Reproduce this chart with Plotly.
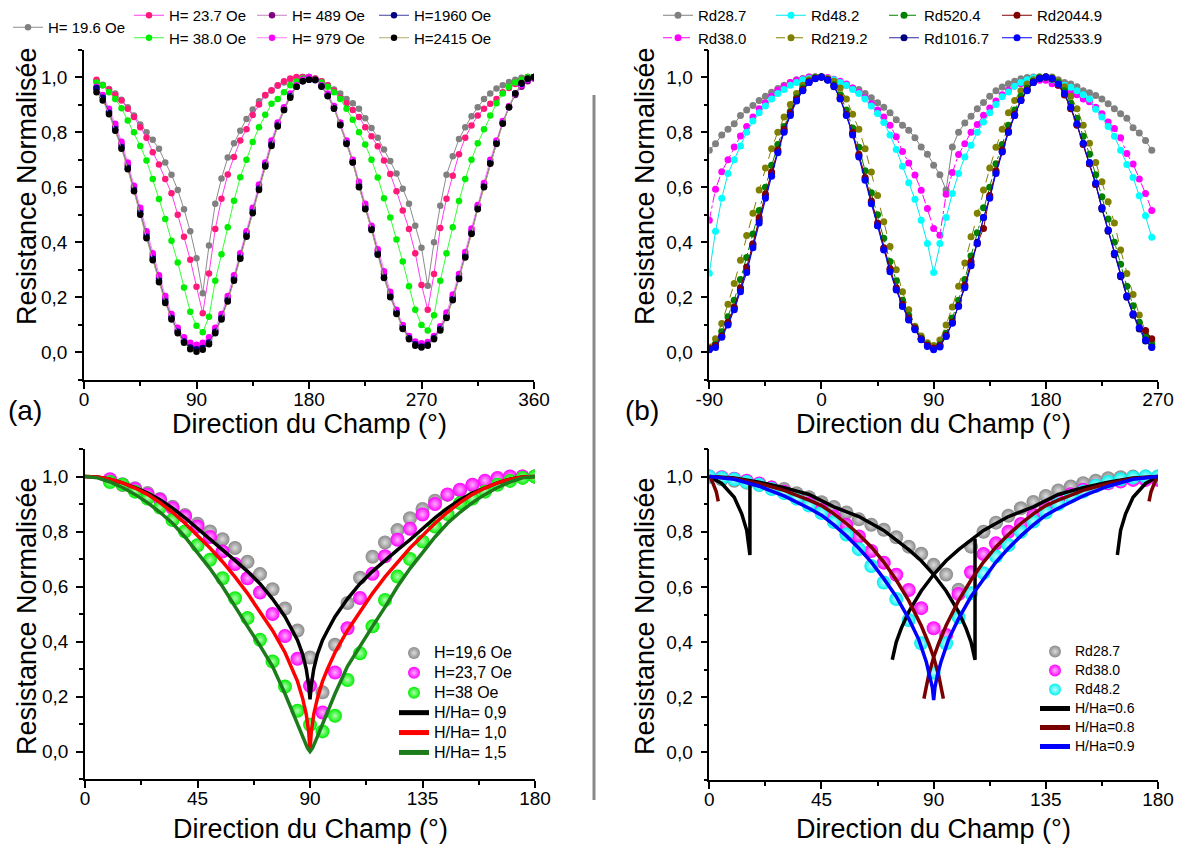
import plotly.graph_objects as go

# ======================= DATA =======================
# ---- (a) top : field direction sweep, 5 deg steps ----
ANGLE_A = list(range(10, 361, 5))
H196 = [0.985,0.972,0.957,0.940,0.918,0.890,0.860,0.828,0.800,0.772,
        0.740,0.690,0.645,0.590,0.520,0.440,0.342,0.215,0.388,0.540,
        0.632,0.708,0.760,0.805,0.848,0.882,0.912,0.933,0.950,0.968,
        0.980,0.990,0.997,1.000,1.000,0.995,0.985,0.970,0.955,0.940,
        0.920,0.905,0.885,0.850,0.815,0.780,0.737,0.695,0.650,0.594,
        0.540,0.460,0.380,0.242,0.400,0.533,0.645,0.712,0.775,0.818,
        0.858,0.890,0.920,0.940,0.958,0.970,0.982,0.990,0.997,1.000,
        1.000]
H237 = [0.990,0.970,0.955,0.935,0.915,0.885,0.855,0.818,0.780,0.727,
        0.682,0.630,0.578,0.500,0.420,0.337,0.239,0.142,0.287,0.448,
        0.558,0.646,0.710,0.770,0.810,0.862,0.900,0.935,0.952,0.970,
        0.985,0.995,1.000,1.000,1.000,0.995,0.985,0.970,0.950,0.925,
        0.905,0.880,0.855,0.818,0.785,0.749,0.697,0.648,0.585,0.515,
        0.448,0.360,0.245,0.155,0.285,0.452,0.558,0.642,0.720,0.780,
        0.824,0.860,0.885,0.903,0.920,0.945,0.960,0.975,0.990,1.000,
        1.000]
H380 = [0.980,0.970,0.945,0.920,0.887,0.842,0.800,0.750,0.697,0.630,
        0.557,0.485,0.406,0.327,0.236,0.148,0.097,0.073,0.130,0.260,
        0.357,0.455,0.551,0.636,0.700,0.764,0.818,0.863,0.903,0.920,
        0.945,0.970,0.984,0.995,1.000,0.990,0.980,0.965,0.945,0.920,
        0.885,0.845,0.800,0.755,0.700,0.635,0.560,0.490,0.410,0.330,
        0.240,0.155,0.100,0.080,0.135,0.260,0.360,0.455,0.550,0.630,
        0.700,0.760,0.810,0.860,0.905,0.940,0.965,0.980,0.990,1.000,
        1.000]
H489 = [0.955,0.930,0.875,0.820,0.755,0.680,0.600,0.515,0.430,0.350,
        0.270,0.195,0.130,0.080,0.045,0.025,0.020,0.025,0.045,0.080,
        0.130,0.195,0.270,0.355,0.435,0.520,0.605,0.685,0.760,0.830,
        0.885,0.935,0.965,0.990,0.995,0.990,0.968,0.935,0.890,0.830,
        0.765,0.695,0.610,0.530,0.455,0.365,0.285,0.210,0.150,0.095,
        0.055,0.035,0.028,0.032,0.055,0.090,0.135,0.200,0.275,0.355,
        0.440,0.530,0.610,0.690,0.765,0.835,0.890,0.935,0.965,0.985,
        0.995]
H979 = [0.965,0.935,0.885,0.830,0.765,0.690,0.605,0.525,0.440,0.360,
        0.280,0.205,0.140,0.090,0.055,0.035,0.028,0.035,0.055,0.090,
        0.140,0.205,0.280,0.360,0.440,0.525,0.610,0.690,0.770,0.835,
        0.890,0.940,0.970,0.990,1.000,0.990,0.970,0.940,0.895,0.835,
        0.770,0.700,0.620,0.540,0.460,0.375,0.295,0.220,0.155,0.100,
        0.060,0.040,0.033,0.038,0.060,0.095,0.145,0.210,0.285,0.365,
        0.450,0.535,0.615,0.700,0.770,0.840,0.895,0.940,0.970,0.990,
        1.000]
H1960 = [0.960,0.925,0.870,0.810,0.745,0.670,0.590,0.505,0.420,0.340,
         0.260,0.185,0.125,0.075,0.040,0.018,0.012,0.016,0.036,0.075,
         0.125,0.190,0.265,0.345,0.425,0.510,0.595,0.680,0.755,0.825,
         0.880,0.930,0.965,0.985,0.990,0.988,0.967,0.932,0.887,0.827,
         0.760,0.690,0.603,0.523,0.448,0.358,0.273,0.203,0.143,0.088,
         0.052,0.030,0.022,0.028,0.052,0.085,0.128,0.193,0.270,0.348,
         0.433,0.523,0.603,0.688,0.760,0.832,0.890,0.940,0.975,0.993,
         1.000]
H2415 = [0.945,0.915,0.865,0.805,0.740,0.665,0.585,0.500,0.415,0.335,
         0.255,0.180,0.120,0.070,0.035,0.012,0.003,0.010,0.030,0.070,
         0.120,0.185,0.260,0.340,0.420,0.505,0.590,0.675,0.750,0.820,
         0.880,0.925,0.965,0.985,0.990,0.990,0.965,0.930,0.885,0.825,
         0.757,0.690,0.600,0.520,0.445,0.355,0.270,0.200,0.140,0.085,
         0.048,0.024,0.018,0.024,0.048,0.080,0.125,0.190,0.267,0.345,
         0.430,0.520,0.600,0.685,0.757,0.830,0.890,0.940,0.978,0.995,
         1.000]

# ---- (b) top ----
ANGLE_B = list(range(-90, 266, 5))
RD287 = [0.734,0.758,0.790,0.810,0.830,0.860,0.880,0.897,0.915,0.930,
         0.945,0.958,0.970,0.980,0.990,0.995,1.000,1.000,1.000,0.990,
         0.985,0.978,0.970,0.960,0.955,0.940,0.925,0.907,0.890,0.870,
         0.845,0.825,0.807,0.780,0.746,0.720,0.680,0.645,0.590,0.746,
         0.800,0.833,0.858,0.885,0.908,0.930,0.950,0.964,0.976,0.985,
         0.994,0.998,1.000,1.000,1.000,1.000,0.990,0.980,0.975,0.965,
         0.950,0.943,0.933,0.920,0.903,0.885,0.867,0.850,0.816,0.797,
         0.770,0.734]
RD380 = [0.480,0.593,0.656,0.700,0.746,0.786,0.820,0.855,0.885,0.907,
         0.930,0.952,0.967,0.980,0.988,0.993,1.000,1.000,1.000,0.998,
         0.992,0.985,0.975,0.960,0.945,0.925,0.903,0.880,0.855,0.825,
         0.783,0.730,0.688,0.644,0.589,0.523,0.450,0.426,0.574,0.653,
         0.719,0.758,0.800,0.828,0.861,0.888,0.913,0.936,0.952,0.967,
         0.976,0.982,0.988,0.988,0.988,0.976,0.970,0.958,0.946,0.936,
         0.920,0.910,0.890,0.867,0.837,0.813,0.780,0.722,0.684,0.630,
         0.577,0.515]
RD482 = [0.288,0.440,0.560,0.650,0.700,0.750,0.800,0.840,0.870,0.895,
         0.920,0.940,0.955,0.970,0.980,0.990,0.995,1.000,1.000,0.995,
         0.990,0.980,0.970,0.955,0.940,0.920,0.895,0.868,0.835,0.790,
         0.737,0.676,0.616,0.556,0.480,0.396,0.290,0.396,0.490,0.577,
         0.650,0.710,0.752,0.800,0.837,0.870,0.900,0.928,0.946,0.967,
         0.980,0.990,0.997,1.000,1.000,0.990,0.980,0.970,0.963,0.950,
         0.936,0.920,0.883,0.855,0.820,0.785,0.734,0.682,0.635,0.569,
         0.496,0.418]
RD2192 = [0.020,0.050,0.105,0.175,0.250,0.335,0.425,0.505,0.590,0.670,
          0.740,0.800,0.855,0.900,0.940,0.970,0.990,1.000,1.000,0.995,
          0.985,0.960,0.920,0.865,0.810,0.740,0.655,0.570,0.475,0.385,
          0.300,0.220,0.155,0.095,0.060,0.035,0.025,0.045,0.100,0.165,
          0.240,0.325,0.420,0.505,0.590,0.670,0.745,0.810,0.870,0.915,
          0.950,0.975,0.990,1.000,1.000,0.998,0.985,0.965,0.930,0.885,
          0.825,0.760,0.690,0.620,0.547,0.470,0.372,0.287,0.210,0.136,
          0.076,0.040]
RD5204 = [0.012,0.030,0.075,0.130,0.190,0.265,0.345,0.430,0.515,0.600,
          0.680,0.755,0.820,0.875,0.925,0.960,0.985,0.997,1.000,0.990,
          0.973,0.935,0.880,0.815,0.745,0.660,0.580,0.500,0.415,0.330,
          0.260,0.190,0.135,0.090,0.052,0.028,0.015,0.030,0.070,0.125,
          0.190,0.265,0.350,0.435,0.525,0.600,0.685,0.755,0.825,0.880,
          0.930,0.960,0.985,0.997,1.000,0.996,0.980,0.950,0.905,0.850,
          0.785,0.720,0.645,0.565,0.485,0.400,0.320,0.240,0.170,0.110,
          0.060,0.030]
RD10167 = [0.012,0.025,0.060,0.105,0.160,0.230,0.300,0.390,0.480,0.570,
           0.650,0.730,0.805,0.865,0.915,0.952,0.980,0.995,1.000,0.990,
           0.965,0.922,0.862,0.795,0.715,0.630,0.545,0.460,0.375,0.300,
           0.230,0.170,0.120,0.085,0.048,0.024,0.014,0.022,0.060,0.110,
           0.170,0.240,0.320,0.400,0.490,0.565,0.655,0.730,0.800,0.860,
           0.915,0.952,0.980,0.995,1.000,0.993,0.972,0.937,0.887,0.827,
           0.757,0.685,0.610,0.520,0.440,0.355,0.275,0.200,0.135,0.085,
           0.042,0.020]
RD20449 = [0.015,0.025,0.060,0.110,0.165,0.235,0.310,0.395,0.490,0.575,
           0.655,0.735,0.810,0.870,0.920,0.955,0.983,0.996,1.000,0.990,
           0.968,0.925,0.865,0.800,0.720,0.635,0.550,0.470,0.380,0.305,
           0.235,0.175,0.125,0.088,0.050,0.026,0.016,0.025,0.062,0.110,
           0.170,0.245,0.330,0.395,0.450,0.570,0.660,0.735,0.805,0.865,
           0.918,0.953,0.982,0.996,1.000,0.993,0.970,0.935,0.885,0.825,
           0.755,0.685,0.610,0.525,0.445,0.360,0.280,0.205,0.140,0.090,
           0.080,0.050]
RD25339 = [0.010,0.018,0.055,0.100,0.155,0.220,0.290,0.380,0.470,0.560,
           0.640,0.725,0.800,0.860,0.913,0.950,0.980,0.994,1.000,0.988,
           0.967,0.920,0.860,0.790,0.710,0.625,0.540,0.460,0.372,0.293,
           0.227,0.167,0.118,0.082,0.046,0.022,0.010,0.020,0.058,0.106,
           0.167,0.235,0.315,0.396,0.490,0.560,0.650,0.728,0.800,0.860,
           0.915,0.950,0.980,0.995,1.000,0.995,0.975,0.940,0.890,0.830,
           0.760,0.690,0.615,0.525,0.445,0.360,0.280,0.205,0.140,0.090,
           0.045,0.018]

# ---- (a) bottom : model curves H/Ha ----
TH_A09 = [0,5,10,15,20,25,30,35,40,45,50,55,60,65,70,75,80,83,85,87,88.5,89.5,90,
          90.5,91.5,93,95,97,100,105,110,115,120,125,130,135,140,145,150,155,160,165,170,175,180]
R_A09 = [1.0,0.998,0.99,0.977,0.96,0.94,0.915,0.885,0.85,0.81,0.77,0.733,0.695,0.655,0.61,0.555,0.49,0.44,0.405,0.355,0.30,0.24,0.19,
         0.24,0.30,0.355,0.405,0.44,0.49,0.555,0.61,0.655,0.695,0.733,0.77,0.81,0.85,0.885,0.915,0.94,0.96,0.977,0.99,0.998,1.0]
TH_A10 = TH_A09
R_A10 = [1.0,0.998,0.99,0.977,0.958,0.935,0.905,0.87,0.83,0.785,0.74,0.69,0.635,0.575,0.51,0.44,0.36,0.30,0.255,0.195,0.135,0.07,0.0,
         0.07,0.135,0.195,0.255,0.30,0.36,0.44,0.51,0.575,0.635,0.69,0.74,0.785,0.83,0.87,0.905,0.935,0.958,0.977,0.99,0.998,1.0]
TH_A15 = [0,5,10,15,20,25,30,35,40,45,50,55,60,65,70,75,80,85,87,89,90,
          91,93,95,100,105,110,115,120,125,130,135,140,145,150,155,160,165,170,175,180]
R_A15 = [1.0,0.995,0.98,0.96,0.935,0.905,0.87,0.83,0.78,0.725,0.665,0.60,0.525,0.455,0.385,0.31,0.21,0.10,0.055,0.012,0.0,
         0.012,0.055,0.10,0.21,0.31,0.385,0.455,0.525,0.60,0.665,0.725,0.78,0.83,0.87,0.905,0.935,0.96,0.98,0.995,1.0]

# ---- (b) bottom : model curves H/Ha (None separates branches) ----
TH_B06 = [0,5,10,13,15,16.3,16.3,None,
          0,10,20,30,40,50,60,70,80,85,90,95,100,103,105,106.6,106.6,None,
          73.4,75,77,80,85,90,95,100,110,120,130,140,150,160,170,180,None,
          163.7,165,167,170,175,180]
R_B06 = [1.0,0.975,0.925,0.865,0.805,0.716,0.98,None,
         1.0,0.995,0.98,0.96,0.935,0.89,0.855,0.805,0.735,0.695,0.645,0.585,0.51,0.45,0.40,0.336,0.775,None,
         0.336,0.40,0.45,0.51,0.585,0.645,0.695,0.735,0.805,0.855,0.89,0.935,0.96,0.98,0.995,1.0,None,
         0.716,0.805,0.865,0.925,0.975,1.0]
TH_B08 = [0,1.5,2.8,3.6,None,
          0,10,20,30,40,45,50,55,60,65,70,75,80,85,88,90,92,93.9,None,
          86.1,88,90,92,95,100,105,110,115,120,125,130,135,140,150,160,170,180,None,
          176.4,177.2,178.5,180]
R_B08 = [1.0,0.975,0.945,0.91,None,
         1.0,0.993,0.975,0.95,0.915,0.895,0.865,0.83,0.79,0.745,0.69,0.625,0.55,0.46,0.395,0.345,0.28,0.195,None,
         0.195,0.28,0.345,0.395,0.46,0.55,0.625,0.69,0.745,0.79,0.83,0.865,0.895,0.915,0.95,0.975,0.993,1.0,None,
         0.91,0.945,0.975,1.0]
TH_B09 = [0,10,20,30,40,45,50,55,60,65,70,75,80,84,87,88.5,89.5,90,
          90.5,91.5,93,96,100,105,110,115,120,125,130,135,140,150,160,170,180]
R_B09 = [1.0,0.99,0.965,0.93,0.885,0.86,0.825,0.785,0.74,0.69,0.63,0.565,0.485,0.41,0.33,0.28,0.235,0.19,
         0.235,0.28,0.33,0.41,0.485,0.565,0.63,0.69,0.74,0.785,0.825,0.86,0.885,0.93,0.965,0.99,1.0]

Y_TICKS = [0.0, 0.2, 0.4, 0.6, 0.8, 1.0]
Y_LABELS = ["0,0", "0,2", "0,4", "0,6", "0,8", "1,0"]
XA_TICKS = [0, 90, 180, 270, 360]
XB_TICKS = [-90, 0, 90, 180, 270]
XC_TICKS = [0, 45, 90, 135, 180]

# ======================= FIGURE =======================
FW, FH = 1183, 846
OFF = 8  # the page body offsets the figure by 8 px; positions below are page pixels
def px(x):
    return (x - OFF) / FW
def py(y):
    return 1 - (y - OFF) / FH

FONT = "Arial, Liberation Sans, Helvetica, sans-serif"
fig = go.Figure()

def add(x, y, name, mcol, lcol, axis, legend, dash="solid", msize=6.5, lw=1):
    fig.add_trace(go.Scatter(
        x=x, y=y, name=name, mode="lines+markers", xaxis=axis[0], yaxis=axis[1],
        legend=legend, line=dict(color=lcol, width=lw, dash=dash),
        marker=dict(color=mcol, size=msize, line=dict(width=0))))

A = ("x", "y")
add(ANGLE_A, H196, "H= 19.6 Oe", "#808080", "#8c8c8c", A, "legend")
add(ANGLE_A, H237, "H= 23.7 Oe", "#ff1a7a", "#ff3cf0", A, "legend2")
add(ANGLE_A, H380, "H= 38.0 Oe", "#00ee00", "#33ff33", A, "legend2")
add(ANGLE_A, H489, "H= 489 Oe", "#800080", "#c080c0", A, "legend3")
add(ANGLE_A, H979, "H= 979 Oe", "#ff00ff", "#ff7cff", A, "legend3")
add(ANGLE_A, H1960, "H=1960 Oe", "#000080", "#4040a0", A, "legend4")
add(ANGLE_A, H2415, "H=2415 Oe", "#000000", "#b4ad6c", A, "legend4")

B = ("x2", "y2")
add(ANGLE_B, RD287, "Rd28.7", "#808080", "#808080", B, "legend5", msize=7)
add(ANGLE_B, RD380, "Rd38.0", "#ff00ff", "#ff00ff", B, "legend5", dash="dashdot", msize=7)
add(ANGLE_B, RD482, "Rd48.2", "#00ffff", "#00e8f0", B, "legend6", msize=7)
add(ANGLE_B, RD2192, "Rd219.2", "#808000", "#808000", B, "legend6", dash="dash", msize=7)
add(ANGLE_B, RD5204, "Rd520.4", "#008000", "#008000", B, "legend7", dash="dashdot", msize=7)
add(ANGLE_B, RD10167, "Rd1016.7", "#000080", "#2a2aa0", B, "legend7", msize=7)
add(ANGLE_B, RD20449, "Rd2044.9", "#800000", "#800000", B, "legend8", msize=7)
add(ANGLE_B, RD25339, "Rd2533.9", "#0000ff", "#0000ff", B, "legend8", msize=7)

def big(s, size):
    return '<span style="font-size:%dpx">%s</span>' % (size, s)

def sphere(x, y, name, col, hi, axis, legend, fs):
    fig.add_trace(go.Scatter(
        x=x, y=y, name=big(name, fs), mode="markers", xaxis=axis[0], yaxis=axis[1],
        legend=legend,
        marker=dict(size=14, color=col, line=dict(width=0),
                    gradient=dict(type="radial", color=hi))))

def model(x, y, name, col, axis, legend, fs):
    fig.add_trace(go.Scatter(
        x=x, y=y, name=big(name, fs), mode="lines", xaxis=axis[0], yaxis=axis[1],
        legend=legend, line=dict(color=col, width=3.5), connectgaps=False))

C = ("x3", "y3")
sphere(ANGLE_A[:35], H196[:35], "H=19,6 Oe", "#8a8a8a", "#dcdcdc", C, "legend9", 16)
sphere(ANGLE_A[:35], H237[:35], "H=23,7 Oe", "#ff00ff", "#ffb0ff", C, "legend9", 16)
sphere(ANGLE_A[:35], H380[:35], "H=38 Oe", "#00ee00", "#b0ffb0", C, "legend9", 16)
model(TH_A09, R_A09, "H/Ha= 0,9", "#000000", C, "legend9", 16)
model(TH_A10, R_A10, "H/Ha= 1,0", "#ff0000", C, "legend9", 16)
model(TH_A15, R_A15, "H/Ha= 1,5", "#1c7c1c", C, "legend9", 16)

D = ("x4", "y4")
sphere(ANGLE_B[18:55], RD287[18:55], "Rd28.7", "#8a8a8a", "#dcdcdc", D, "legend10", 14)
sphere(ANGLE_B[18:55], RD380[18:55], "Rd38.0", "#ff00ff", "#ffb0ff", D, "legend10", 14)
sphere(ANGLE_B[18:55], RD482[18:55], "Rd48.2", "#00f0f0", "#c0ffff", D, "legend10", 14)
model(TH_B06, R_B06, "H/Ha=0.6", "#000000", D, "legend10", 14)
model(TH_B08, R_B08, "H/Ha=0.8", "#7a0000", D, "legend10", 14)
model(TH_B09, R_B09, "H/Ha=0.9", "#0000ff", D, "legend10", 14)

# ---------- axes ----------
XDOM = {1: (84, 534), 2: (709.3, 1158), 3: (85, 535), 4: (709.3, 1158)}
YDOM = {1: (380, 49.5), 2: (380, 49.5), 3: (779, 449), 4: (780, 449)}
XR = {1: (0, 360), 2: (-90, 270), 3: (0, 180), 4: (0, 180)}
XT = {1: XA_TICKS, 2: XB_TICKS, 3: XC_TICKS, 4: XC_TICKS}
XM = {1: 45, 2: 45, 3: 22.5, 4: 22.5}
XTICK0 = {1: 0, 2: -90, 3: 0, 4: 0}

lay = {}
for i in range(1, 5):
    sx = "" if i == 1 else str(i)
    common = dict(showline=True, linecolor="black", linewidth=1.5, ticks="outside",
                  ticklen=7, tickwidth=1.5, tickcolor="black", showgrid=False,
                  zeroline=False, automargin=False,
                  tickfont=dict(size=19, color="black", family=FONT))
    lay["xaxis" + sx] = dict(common, domain=[px(XDOM[i][0]), px(XDOM[i][1])],
                             range=list(XR[i]), anchor="y" + sx, ticklabelstandoff=-6,
                             tickvals=XT[i], ticktext=[str(v) for v in XT[i]],
                             minor=dict(dtick=XM[i], tick0=XTICK0[i], ticks="outside",
                                        ticklen=4, tickwidth=1.5, tickcolor="black"))
    lay["yaxis" + sx] = dict(common, domain=[py(YDOM[i][0]), py(YDOM[i][1])],
                             range=[-0.1, 1.1], anchor="x" + sx, ticklabelstandoff=4,
                             tickvals=Y_TICKS, ticktext=Y_LABELS,
                             minor=dict(dtick=0.1, tick0=0, ticks="outside",
                                        ticklen=4, tickwidth=1.5, tickcolor="black"))
    # mirrored frame with inward ticks
    j = i + 4
    lay["xaxis%d" % j] = dict(overlaying="x" + sx, anchor="y" + sx, side="top",
                              range=list(XR[i]), showline=True, linecolor="black",
                              linewidth=1.5, ticks="inside", ticklen=6, tickwidth=1.5,
                              tickcolor="black", tickvals=XT[i], showticklabels=False,
                              showgrid=False, zeroline=False, automargin=False,
                              minor=dict(dtick=XM[i], tick0=XTICK0[i], ticks="inside",
                                         ticklen=4, tickwidth=1.5, tickcolor="black"))
    lay["yaxis%d" % j] = dict(overlaying="y" + sx, anchor="x" + sx, side="right",
                              range=[-0.1, 1.1], showline=True, linecolor="black",
                              linewidth=1.5, ticks="inside", ticklen=6, tickwidth=1.5,
                              tickcolor="black", tickvals=Y_TICKS, showticklabels=False,
                              showgrid=False, zeroline=False, automargin=False,
                              minor=dict(dtick=0.1, tick0=0, ticks="inside",
                                         ticklen=4, tickwidth=1.5, tickcolor="black"))

# ---------- legends ----------
def leg(x, y, size):
    return dict(x=px(x), y=py(y), xanchor="left", yanchor="top", orientation="v",
                bgcolor="rgba(0,0,0,0)", borderwidth=0, tracegroupgap=0,
                font=dict(size=size, family=FONT, color="black"))

lay["legend"] = leg(8, 11, 15)
lay["legend2"] = leg(129, -1, 15)
lay["legend3"] = leg(252, -1, 15)
lay["legend4"] = leg(374, -1, 15)
lay["legend5"] = leg(658, -1, 15)
lay["legend6"] = leg(771, -1, 15)
lay["legend7"] = leg(884, -1, 15)
lay["legend8"] = leg(997, -1, 15)
lay["legend9"] = dict(leg(394, 638, 13), itemsizing="constant")
lay["legend10"] = dict(leg(1035, 637, 11), itemsizing="constant")

# ---------- text ----------
ann = []
def txt(x, y, s, size, angle=0):
    ann.append(dict(x=px(x), y=py(y), xref="paper", yref="paper", text=s, showarrow=False,
                    textangle=angle, xanchor="center", yanchor="middle",
                    font=dict(size=size, family=FONT, color="black")))

YT = "Resistance Normalisée"
XTT = "Direction du Champ (°)"
txt(27, 186, YT, 27, -90)
txt(645, 186, YT, 27, -90)
txt(27, 616, YT, 27, -90)
txt(645, 616, YT, 27, -90)
txt(309, 424, XTT, 27)
txt(933, 424, XTT, 27)
txt(310, 829, XTT, 27)
txt(933, 829, XTT, 27)
txt(25, 410, "(a)", 28)
txt(642, 410, "(b)", 28)

fig.update_layout(
    width=FW, height=FH, margin=dict(l=0, r=0, t=0, b=0, autoexpand=False),
    paper_bgcolor="white", plot_bgcolor="white",
    font=dict(family=FONT, color="black"),
    showlegend=True, annotations=ann,
    shapes=[dict(type="line", xref="paper", yref="paper", x0=px(594), x1=px(594),
                 y0=py(95), y1=py(800), line=dict(color="#8a8a8a", width=3))],
    **lay)

fig.write_html("out.html")
